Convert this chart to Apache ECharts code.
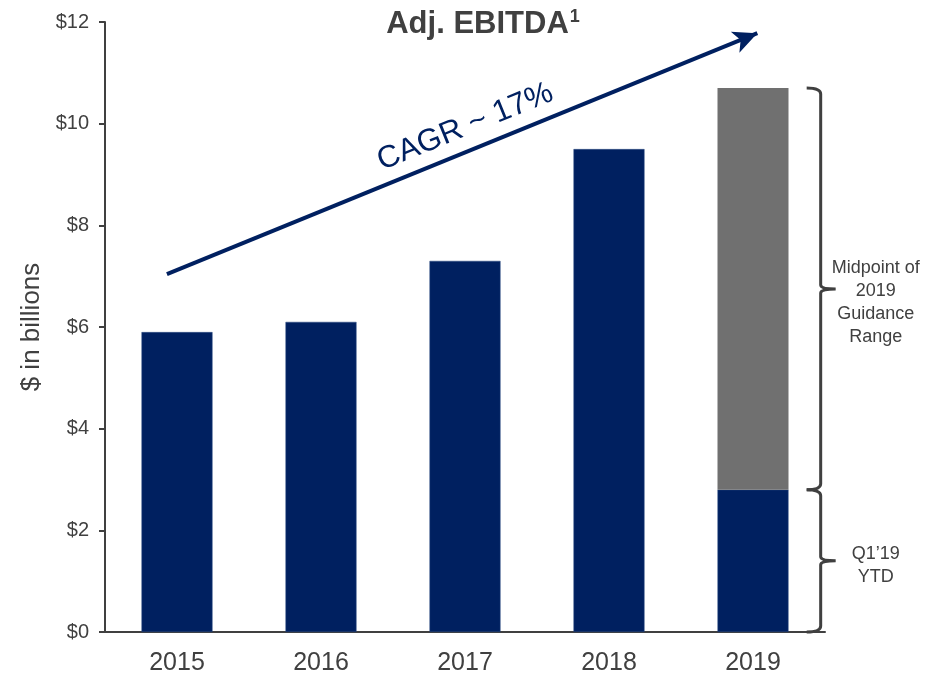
<!DOCTYPE html>
<html>
<head>
<meta charset="utf-8">
<script src="https://cdn.jsdelivr.net/npm/echarts@6/dist/echarts.min.js"></script>
<style>
  html, body { margin: 0; padding: 0; background: #fff; }
  #chart { width: 942px; height: 676px; }
</style>
</head>
<body>
<div id="chart"></div>
<script>
// data
const years = ['2015', '2016', '2017', '2018', '2019'];
const actual = [5.9, 6.1, 7.3, 9.5, 2.8];
const guidanceRest = ['-', '-', '-', '-', 7.9];
const yTicks = { min: 0, max: 12, interval: 2 };
// braces on the right: [low, high, label]
const braces = [
  [0, 2.8, 'Q1\u201919\nYTD'],
  [2.8, 10.7, 'Midpoint of\n2019\nGuidance\nRange']
];
// trend arrow, in (position along x axis 0..5, value) space
const arrowFrom = [0.43, 7.04];
const arrowTo = [4.53, 11.78];
const braceX = 4.97;

const navy = '#002060';
const gray = '#707070';
const text = '#404040';
const font = 'Liberation Sans, Arial, sans-serif';

let chart = echarts.init(document.getElementById('chart'));

let option = {
  animation: false,
  textStyle: { fontFamily: font },
  title: {
    text: '{t|Adj. EBITDA}{s|1}',
    left: 478,
    top: 3,
    textAlign: 'center',
    textStyle: {
      rich: {
        t: { fontSize: 31, fontWeight: 'bold', color: text, fontFamily: font },
        s: { fontSize: 18, fontWeight: 'bold', color: text, fontFamily: font, verticalAlign: 'top', padding: [0, 0, 14, 1] }
      }
    }
  },
  grid: { left: 105, right: 117, top: 22, bottom: 44 },
  xAxis: [
    {
      type: 'category',
      data: years,
      axisLine: { lineStyle: { color: text, width: 2 } },
      axisTick: { length: 6, lineStyle: { color: text, width: 2 } },
      axisLabel: { color: text, fontSize: 25, margin: 19, fontFamily: font }
    },
    { type: 'value', min: 0, max: 5, show: false }
  ],
  yAxis: {
    type: 'value',
    min: yTicks.min,
    max: yTicks.max,
    interval: yTicks.interval,
    name: '$ in billions',
    nameLocation: 'middle',
    nameGap: 58,
    nameTextStyle: { color: text, fontSize: 26, fontFamily: font },
    splitLine: { show: false },
    axisLine: { show: true, lineStyle: { color: text, width: 2 } },
    axisTick: { show: true, length: 6, lineStyle: { color: text, width: 2 } },
    axisLabel: { color: text, fontSize: 20, margin: 16, formatter: '${value}', fontFamily: font }
  },
  series: [
    {
      name: 'actual',
      type: 'bar',
      stack: 'a',
      barWidth: 71,
      data: actual,
      itemStyle: { color: navy, borderColor: '#2a4a80', borderWidth: 0.5 }
    },
    {
      name: 'guidance',
      type: 'bar',
      stack: 'a',
      barWidth: 71,
      data: guidanceRest,
      itemStyle: { color: gray }
    },
    {
      name: 'braces',
      type: 'custom',
      xAxisIndex: 1,
      yAxisIndex: 0,
      silent: true,
      data: braces.map(b => [braceX, b[0], b[1], b[2]]),
      renderItem: function (params, api) {
        let lo = api.coord([api.value(0), api.value(1)]);
        let hi = api.coord([api.value(0), api.value(2)]);
        let x = lo[0];
        let yb = lo[1];
        let yt = hi[1];
        let ym = (yb + yt) / 2;
        // label sits a little below the brace point
        let dy = params.dataIndex === 1 ? 14 : 5;
        let d = 'M' + (x - 14) + ' ' + yt +
          ' Q' + x + ' ' + yt + ' ' + x + ' ' + (yt + 6) +
          ' L' + x + ' ' + (ym - 4) +
          ' Q' + x + ' ' + ym + ' ' + (x + 15) + ' ' + ym +
          ' Q' + x + ' ' + ym + ' ' + x + ' ' + (ym + 4) +
          ' L' + x + ' ' + (yb - 6) +
          ' Q' + x + ' ' + yb + ' ' + (x - 14) + ' ' + yb;
        return {
          type: 'group',
          children: [
            {
              type: 'path',
              shape: { pathData: d },
              style: { fill: null, stroke: text, lineWidth: 3 }
            },
            {
              type: 'text',
              x: x + 55,
              y: ym + dy,
              style: {
                text: api.value(3),
                fill: text,
                font: '18px ' + font,
                align: 'center',
                verticalAlign: 'middle',
                lineHeight: 23
              }
            }
          ]
        };
      },
      markLine: {
        silent: true,
        symbol: ['none', 'arrow'],
        symbolSize: [17, 24],
        lineStyle: { color: navy, width: 4, type: 'solid' },
        label: {
          show: true,
          position: 'insideMiddleTop',
          formatter: 'CAGR ~ 17%',
          color: navy,
          fontSize: 31,
          fontFamily: font,
          distance: 8,
          padding: [0, 0, 0, 26]
        },
        data: [[{ coord: arrowFrom }, { coord: arrowTo }]]
      }
    }
  ]
};

chart.setOption(option);
</script>
</body>
</html>
